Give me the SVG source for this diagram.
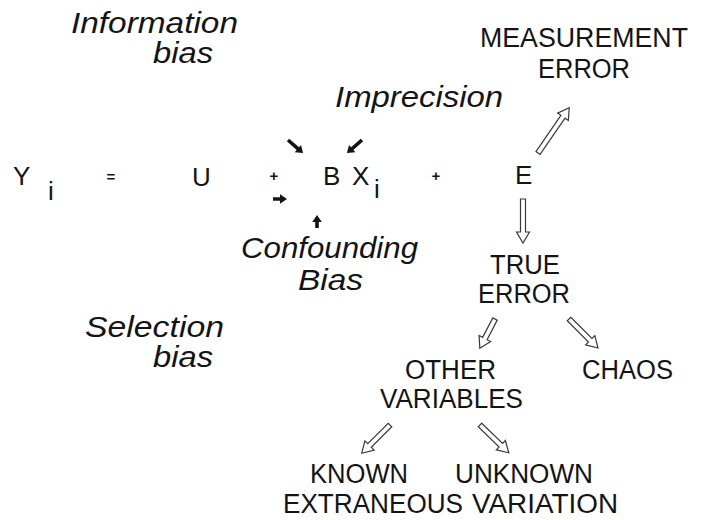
<svg xmlns="http://www.w3.org/2000/svg" width="702" height="520" viewBox="0 0 702 520">
<style>
text{font-family:"Liberation Sans",Arial,Helvetica,sans-serif;fill:#141414}
.it{font-style:italic;font-size:30px}
.cap{font-size:27px}
.eq{font-size:26px}
.op{font-size:15px;font-weight:bold}
.sub{font-size:26px}
.ha{fill:#fff;stroke:#3a3a3a;stroke-width:1.2;stroke-linejoin:miter}
.sa{fill:#141414}
</style>
<rect width="702" height="520" fill="#fff"/>
<g id="information-bias">
<text class="it" x="71" y="33" textLength="167" lengthAdjust="spacingAndGlyphs">Information</text>
<text class="it" x="153" y="63" textLength="60" lengthAdjust="spacingAndGlyphs">bias</text>
</g>
<g id="imprecision">
<text class="it" x="335" y="107" textLength="168" lengthAdjust="spacingAndGlyphs">Imprecision</text>
</g>
<g id="confounding-bias">
<text class="it" x="241" y="258" textLength="177" lengthAdjust="spacingAndGlyphs">Confounding</text>
<text class="it" x="298" y="290" textLength="65" lengthAdjust="spacingAndGlyphs">Bias</text>
</g>
<g id="selection-bias">
<text class="it" x="85" y="337" textLength="139" lengthAdjust="spacingAndGlyphs">Selection</text>
<text class="it" x="153" y="367" textLength="60" lengthAdjust="spacingAndGlyphs">bias</text>
</g>
<g id="equation">
<text class="eq" x="13" y="185">Y</text>
<text class="sub" x="48" y="200">i</text>
<text class="op" x="111" y="182" text-anchor="middle">=</text>
<text class="eq" x="192" y="186">U</text>
<text class="op" x="274" y="181" text-anchor="middle">+</text>
<text class="eq" x="323" y="185">B</text>
<text class="eq" x="352" y="185">X</text>
<text class="sub" x="374" y="198">i</text>
<text class="op" x="436" y="181" text-anchor="middle">+</text>
</g>
<g id="e">
<text class="eq" x="515" y="184">E</text>
</g>
<g id="measurement-error">
<text class="cap" x="480" y="47" textLength="208" lengthAdjust="spacingAndGlyphs">MEASUREMENT</text>
<text class="cap" x="538" y="78" textLength="92" lengthAdjust="spacingAndGlyphs">ERROR</text>
</g>
<g id="true-error">
<text class="cap" x="490" y="274" textLength="70" lengthAdjust="spacingAndGlyphs">TRUE</text>
<text class="cap" x="478" y="303" textLength="92" lengthAdjust="spacingAndGlyphs">ERROR</text>
</g>
<g id="other-variables">
<text class="cap" x="405" y="379" textLength="91" lengthAdjust="spacingAndGlyphs">OTHER</text>
<text class="cap" x="380" y="408" textLength="143" lengthAdjust="spacingAndGlyphs">VARIABLES</text>
</g>
<g id="chaos">
<text class="cap" x="582" y="379" textLength="91" lengthAdjust="spacingAndGlyphs">CHAOS</text>
</g>
<g id="known-extraneous">
<text class="cap" x="310" y="483" textLength="98" lengthAdjust="spacingAndGlyphs">KNOWN</text>
<text class="cap" x="283" y="513" textLength="180" lengthAdjust="spacingAndGlyphs">EXTRANEOUS</text>
</g>
<g id="unknown-variation">
<text class="cap" x="455" y="483" textLength="138" lengthAdjust="spacingAndGlyphs">UNKNOWN</text>
<text class="cap" x="472" y="513" textLength="146" lengthAdjust="spacingAndGlyphs">VARIATION</text>
</g>
<g id="connectors">
<path class="sa" transform="translate(288,140) rotate(41)" d="M0,-1.8 H13 V-4.8 L20,0 L13,4.8 V1.8 H0 Z"/>
<path class="sa" transform="translate(362,140) rotate(139)" d="M0,-1.8 H13 V-4.8 L20,0 L13,4.8 V1.8 H0 Z"/>
<path class="sa" transform="translate(273,199)" d="M0,-1.8 H7 V-4.8 L14,0 L7,4.8 V1.8 H0 Z"/>
<path class="sa" transform="translate(317,228) rotate(-90)" d="M0,-1.8 H6 V-4.8 L13,0 L6,4.8 V1.8 H0 Z"/>
<path class="ha" transform="translate(538,153) rotate(-55.4)" d="M0,-2.5 H44 V-6.5 L55,0 L44,6.5 V2.5 H0 Z"/>
<path class="ha" transform="translate(523,199) rotate(90)" d="M0,-2.5 H33 V-6.5 L44,0 L33,6.5 V2.5 H0 Z"/>
<path class="ha" transform="translate(495,319) rotate(117.4)" d="M0,-2.5 H22 V-6.5 L33,0 L22,6.5 V2.5 H0 Z"/>
<path class="ha" transform="translate(569,319) rotate(45)" d="M0,-2.5 H30 V-6.5 L41,0 L30,6.5 V2.5 H0 Z"/>
<path class="ha" transform="translate(390,425) rotate(135)" d="M0,-2.5 H29 V-6.5 L40,0 L29,6.5 V2.5 H0 Z"/>
<path class="ha" transform="translate(480,425) rotate(44)" d="M0,-2.5 H29 V-6.5 L40,0 L29,6.5 V2.5 H0 Z"/>
</g>
</svg>
